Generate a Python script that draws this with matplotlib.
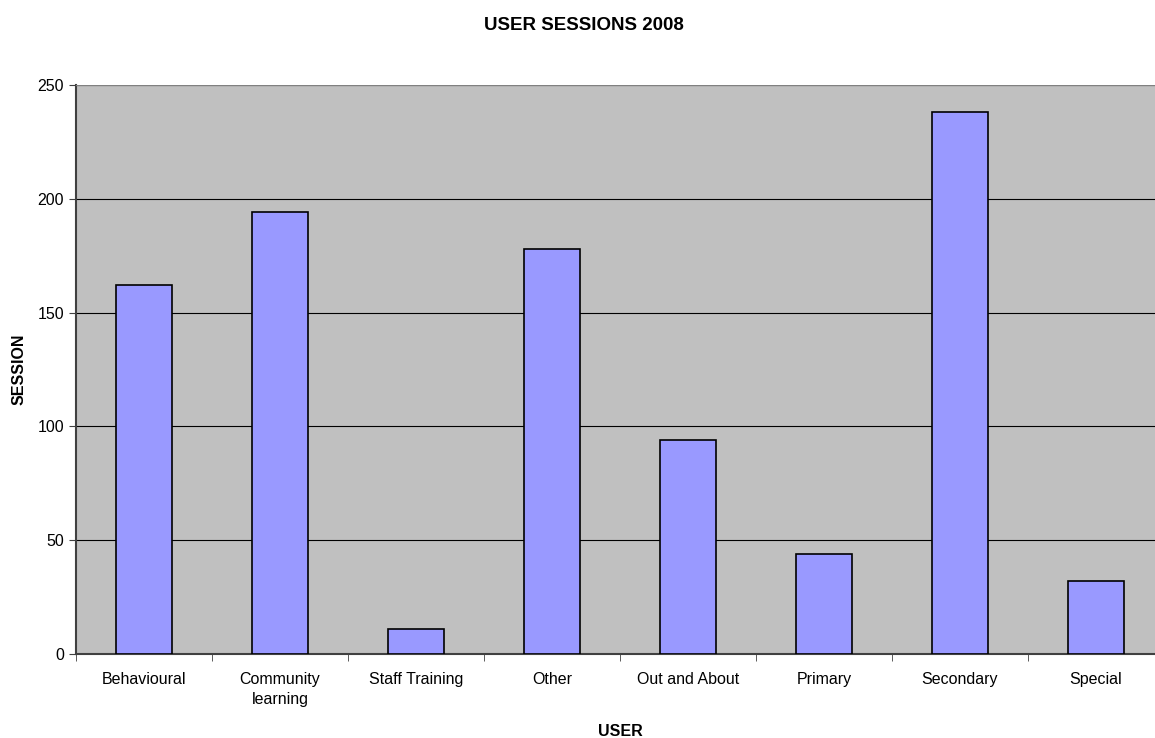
import matplotlib
matplotlib.use("Agg")
import matplotlib.pyplot as plt
import numpy as np

plt.rcParams['font.family'] = ['Liberation Sans', 'DejaVu Sans']

users = ['Behavioural', 'Community\nlearning', 'Staff Training', 'Other',
         'Out and About', 'Primary', 'Secondary', 'Special']
sessions = [162, 194, 11, 178, 94, 44, 238, 32]

fig = plt.figure(figsize=(11.55, 7.38), dpi=100)
# plot area runs past the right edge of the picture, as in the original
ax = fig.add_axes([0.0658, 0.1138, 0.942, 0.771])
ax.set_facecolor('#c0c0c0')

x = np.arange(len(users))
ax.bar(x, sessions, width=0.405, color='#9999ff', edgecolor='black', linewidth=1.2, zorder=3)

ax.set_xlim(-0.5, len(users) - 0.5)
ax.set_ylim(0, 250)
ax.set_yticks(np.arange(0, 251, 50))
ax.yaxis.grid(True, color='black', linewidth=0.8, zorder=1)

ax.set_xticks(x)
ax.set_xticklabels(users, fontsize=11.5, linespacing=1.45)
ax.tick_params(axis='x', length=0, pad=13)
ax.set_xticks(np.arange(-0.5, len(users)), minor=True)
ax.tick_params(axis='x', which='minor', length=5, direction='out', color='#404040')
ax.tick_params(axis='y', length=5, direction='out', labelsize=11.5, color='#404040')

for side in ['top', 'right']:
    ax.spines[side].set_visible(False)
ax.spines['left'].set_color('#404040')
ax.spines['bottom'].set_color('#404040')
ax.spines['left'].set_linewidth(1.5)
ax.spines['bottom'].set_linewidth(1.5)
ax.axhline(250, color='#808080', linewidth=1.5, zorder=4)

ax.set_xlabel('USER', fontsize=11.5, fontweight='bold', labelpad=12)
ax.set_ylabel('SESSION', fontsize=11.5, fontweight='bold', labelpad=8)
fig.text(0.506, 0.965, 'USER SESSIONS 2008', fontsize=13.5, fontweight='bold',
         ha='center', va='center')

fig.savefig('out.png', dpi=100)
